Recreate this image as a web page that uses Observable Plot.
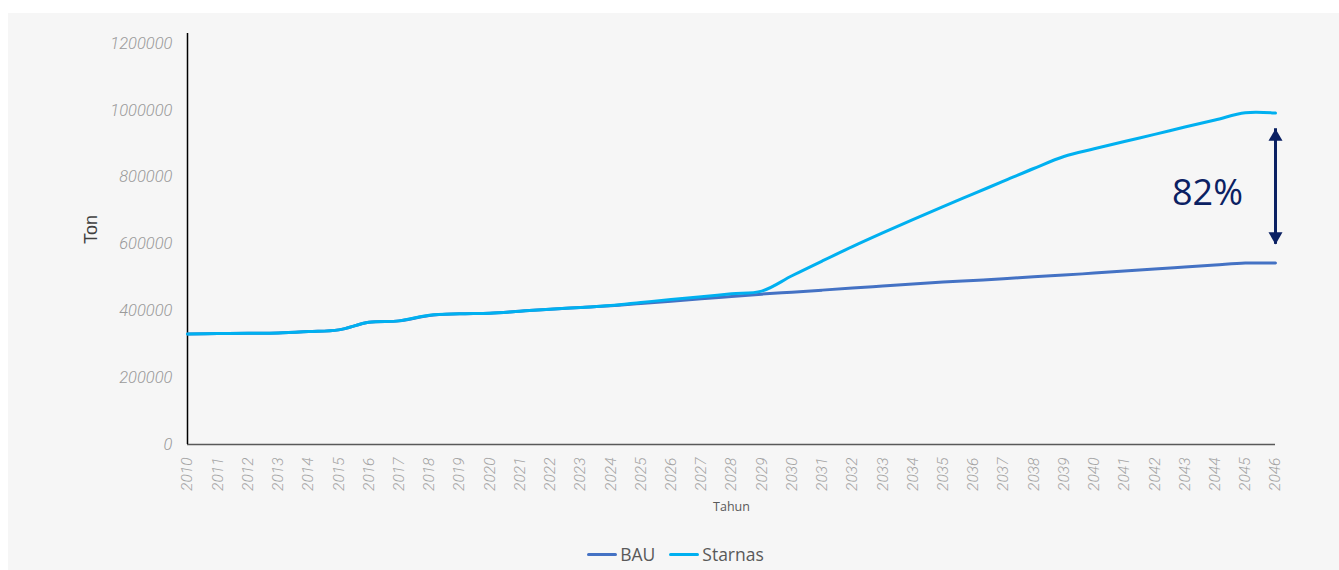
<!DOCTYPE html>
<html>
<head>
<meta charset="utf-8">
<script src="https://cdn.jsdelivr.net/npm/d3@7"></script>
<script src="https://cdn.jsdelivr.net/npm/@observablehq/plot@0.6"></script>
<style>
  html, body { margin: 0; padding: 0; background: #ffffff; }
  #panel {
    position: absolute; left: 8px; top: 13px; width: 1331px; height: 557px;
    background: #f6f6f6;
  }
  #legend {
    display: flex; justify-content: center; align-items: center;
    height: 32px; margin-left: 4px;
    font-family: "Open Sans", "Noto Sans", sans-serif; font-size: 17.5px; color: #595959;
  }
  .item { display: flex; align-items: center; margin: 0 7px; }
  .swatch { width: 30px; height: 3px; border-radius: 2px; margin-right: 3px; }
</style>
</head>
<body>
<div id="panel">
  <div id="chart"></div>
  <div id="legend"></div>
</div>
<script>
// Years on the x axis
const years = [2010, 2011, 2012, 2013, 2014, 2015, 2016, 2017, 2018, 2019,
               2020, 2021, 2022, 2023, 2024, 2025, 2026, 2027, 2028, 2029,
               2030, 2031, 2032, 2033, 2034, 2035, 2036, 2037, 2038, 2039,
               2040, 2041, 2042, 2043, 2044, 2045, 2046];

// Business-as-usual projection (ton)
const bau = [331000, 332000, 333000, 334000, 338000, 343000, 366000, 370000, 386000, 391000,
             393000, 399000, 405000, 410000, 415000, 422000, 429000, 436000, 443000, 450000,
             456000, 462000, 468000, 474000, 480000, 486000, 491000, 496000, 502000, 507000,
             513000, 519000, 525000, 531000, 537000, 543000, 543000];

// Starnas scenario (ton)
const starnas = [331000, 332000, 333000, 334000, 338000, 343000, 366000, 370000, 387000, 391000,
                 393000, 399000, 405000, 410000, 416000, 425000, 434000, 442000, 451000, 459000,
                 505000, 549000, 592000, 633000, 673000, 712000, 750000, 788000, 826000, 862000,
                 885000, 907000, 928000, 950000, 971000, 993000, 992000];

const seriesNames = ["BAU", "Starnas"];
const seriesColors = ["#4472C4", "#00B0F0"];

const yTicks = [0, 200000, 400000, 600000, 800000, 1000000, 1200000];

// Gap annotation between the two scenarios at the last year
const gapYear = 2046;
const gapLow = 599000;
const gapHigh = 945000;
const gapLabel = "82%";
const gapLabelPos = {x: 2043.75, y: 750000};

const rows = [];
years.forEach((yr, i) => {
  rows.push({year: yr, value: bau[i], series: seriesNames[0]});
  rows.push({year: yr, value: starnas[i], series: seriesNames[1]});
});

const navy = "#0B2163";
const tickFont = {fontFamily: "Roboto, 'Liberation Sans', sans-serif", fontStyle: "italic", fontWeight: 300};

const chart = Plot.plot({
  width: 1331,
  height: 525,
  marginLeft: 179,
  marginRight: 64,
  marginTop: 20,
  marginBottom: 94,
  style: {background: "transparent", overflow: "visible"},
  x: {type: "linear", domain: [2010, 2046]},
  y: {domain: [0, 1230000]},
  color: {domain: seriesNames, range: seriesColors},
  marks: [
    Plot.axisY({
      ticks: yTicks, tickSize: 0, tickPadding: 15, label: null,
      tickFormat: d => String(d), fontSize: 16.5, fill: "#9a9a9a", ...tickFont
    }),
    Plot.axisX({
      ticks: years, tickSize: 0, tickPadding: 13, tickRotate: -90, label: null,
      tickFormat: d => String(d), fontSize: 15.5, fill: "#a3a3a3", ...tickFont
    }),
    Plot.ruleY([0], {stroke: "#595959", strokeWidth: 1.5}),
    Plot.ruleX([years[0]], {stroke: "#000000", strokeWidth: 1.5}),
    Plot.text(["Ton"], {
      frameAnchor: "left", y: [600000], dx: -96, rotate: -90,
      fontSize: 18, fill: "#404040", fontFamily: "'Liberation Sans', sans-serif"
    }),
    Plot.text(["Tahun"], {
      frameAnchor: "bottom", dy: 66,
      fontSize: 12.5, fill: "#595959", fontFamily: "'Open Sans', sans-serif"
    }),
    Plot.line(rows, {
      x: "year", y: "value", z: "series", stroke: "series",
      strokeWidth: 3, curve: "catmull-rom"
    }),
    // Double-headed arrow showing the gap
    Plot.ruleX([gapYear], {y1: gapLow, y2: gapHigh, stroke: navy, strokeWidth: 3}),
    Plot.dot([gapHigh], {x: () => gapYear, y: d => d, symbol: "triangle", r: 5.2, fill: navy, dy: 8}),
    Plot.dot([gapLow], {x: () => gapYear, y: d => d, symbol: "triangle", rotate: 180, r: 5.2, fill: navy, dy: -8}),
    Plot.text([gapLabel], {
      x: [gapLabelPos.x], y: [gapLabelPos.y], text: d => d,
      fontSize: 36, fill: navy, fontFamily: "'Open Sans', sans-serif"
    })
  ]
});

document.getElementById("chart").appendChild(chart);

// Legend below the chart
const legend = document.getElementById("legend");
seriesNames.forEach((name, i) => {
  const item = document.createElement("div");
  item.className = "item";
  const sw = document.createElement("span");
  sw.className = "swatch";
  sw.style.background = seriesColors[i];
  const label = document.createElement("span");
  label.textContent = name;
  item.appendChild(sw);
  item.appendChild(label);
  legend.appendChild(item);
});
</script>
</body>
</html>
